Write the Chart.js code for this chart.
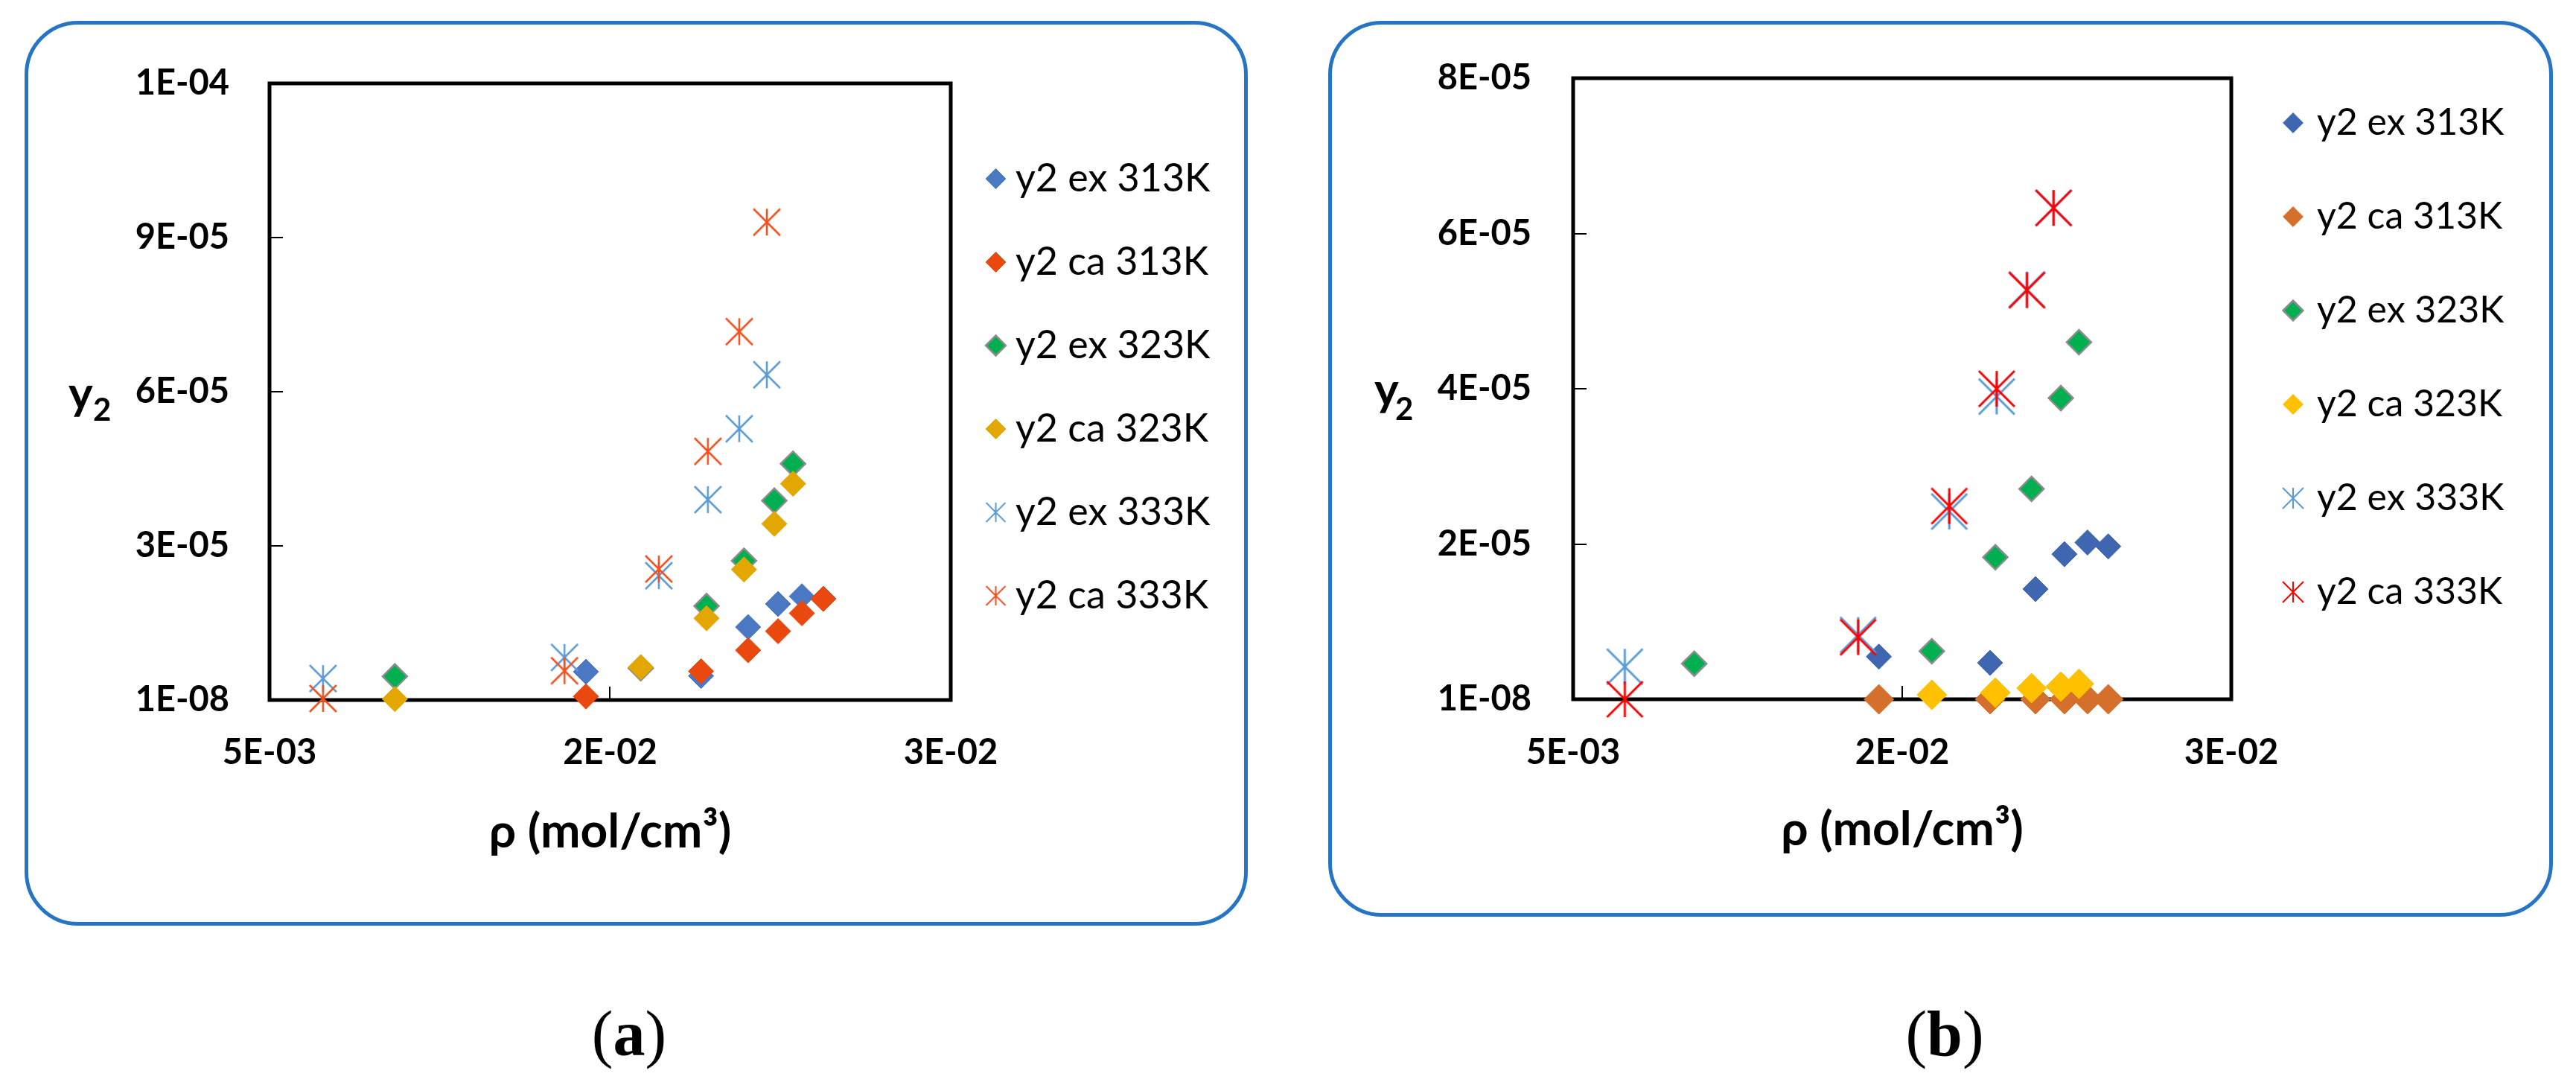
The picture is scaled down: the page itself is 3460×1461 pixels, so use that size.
<!DOCTYPE html>
<html>
<head>
<meta charset="utf-8">
<script src="https://cdn.jsdelivr.net/npm/chart.js@4.4.1/dist/chart.umd.min.js"></script>
<style>
html,body{margin:0;padding:0;background:#fff;}
body{width:3460px;height:1461px;position:relative;overflow:hidden;}
.frame{position:absolute;box-sizing:border-box;border:5px solid #2575C4;border-radius:72px;}
canvas{position:absolute;top:0;}
.cap{position:absolute;top:1345px;font-family:'Liberation Serif','Times New Roman',serif;font-size:86px;line-height:1;color:#000;white-space:nowrap;transform:translateX(-50%);}
</style>
</head>
<body>
<div class="frame" style="left:32.5px;top:27.5px;width:1643px;height:1215px"></div>
<div class="frame" style="left:1783.5px;top:27.5px;width:1645px;height:1203px"></div>
<canvas id="chartA" width="1730" height="1461" style="left:0px"></canvas>
<canvas id="chartB" width="1730" height="1461" style="left:1730px"></canvas>
<div class="cap" style="left:845px">(<b>a</b>)</div>
<div class="cap" style="left:2612px">(<b>b</b>)</div>
<script>
// ---------- data ----------
const seriesLabels = ['y2 ex 313K', 'y2 ca 313K', 'y2 ex 323K', 'y2 ca 323K', 'y2 ex 333K', 'y2 ca 333K'];

const rho313 = [0.01429, 0.01767, 0.01905, 0.01993, 0.02063, 0.02126];
const rho323 = [0.00868, 0.01590, 0.01783, 0.01893, 0.01982, 0.02037];
const rho333 = [0.00657, 0.01366, 0.01643, 0.01787, 0.01879, 0.01960];

const ex313 = [5.5e-6, 4.7e-6, 1.42e-5, 1.87e-5, 2.02e-5, 1.97e-5];
const ex323 = [4.6e-6, 6.2e-6, 1.83e-5, 2.71e-5, 3.88e-5, 4.60e-5];
const ex333 = [4.2e-6, 8.3e-6, 2.42e-5, 3.90e-5, 5.28e-5, 6.33e-5];

const caA313 = [7e-7, 5.6e-6, 9.7e-6, 1.34e-5, 1.69e-5, 1.97e-5];
const caA323 = [2e-7, 6.4e-6, 1.59e-5, 2.54e-5, 3.43e-5, 4.21e-5];
const caA333 = [3e-7, 5.7e-6, 2.55e-5, 4.84e-5, 7.17e-5, 9.30e-5];

const caB313 = [1e-9, 2e-9, 3e-9, 4e-9, 6e-9, 9e-9];
const caB323 = [null, 5.8e-7, 8.6e-7, 1.44e-6, 1.63e-6, 2.0e-6];
const caB333 = [5e-9, 8.0e-6, 2.49e-5, 4.00e-5, 5.27e-5, 6.33e-5];

const xTickValues = [0.005, 0.015, 0.025];
const xTickLabels = ['5E-03', '2E-02', '3E-02'];
const yTickValuesA = [1e-8, 3.001e-5, 6.001e-5, 9.001e-5, 1.2001e-4];
const yTickLabelsA = ['1E-08', '3E-05', '6E-05', '9E-05', '1E-04'];
const yTickValuesB = [1e-8, 2.001e-5, 4.001e-5, 6.001e-5, 8.001e-5];
const yTickLabelsB = ['1E-08', '2E-05', '4E-05', '6E-05', '8E-05'];
const xTitle = 'ρ (mol/cm³)';

// ---------- helpers ----------
Chart.defaults.font.family = 'Lato, "Open Sans", sans-serif';

function makeStar(color, r, lw) {
  const pad = Math.ceil(lw);
  const s = 2 * r + 2 * pad;
  const c = document.createElement('canvas');
  c.width = s; c.height = s;
  const g = c.getContext('2d');
  g.strokeStyle = color; g.lineWidth = lw; g.lineCap = 'butt';
  const m = s / 2;
  g.beginPath();
  g.moveTo(m - r, m - r); g.lineTo(m + r, m + r);
  g.moveTo(m + r, m - r); g.lineTo(m - r, m + r);
  g.moveTo(m, m - r); g.lineTo(m, m + r);
  g.stroke();
  return c;
}

function pts(xs, ys) {
  return xs.map((x, i) => ({x: x, y: ys[i]})).filter(p => p.y !== null);
}

function diamond(label, xs, ys, fill, border, bw, r, idx) {
  return {
    label: label, data: pts(xs, ys), showLine: false, clip: false, order: 5 - idx,
    pointStyle: 'rectRot', pointRadius: r, pointHoverRadius: r,
    pointBackgroundColor: fill, pointBorderColor: border, pointBorderWidth: bw,
    backgroundColor: fill, borderColor: border, borderWidth: bw
  };
}

function star(label, xs, ys, color, r, lw, legR, idx) {
  const img = makeStar(color, r, lw);
  return {
    label: label, data: pts(xs, ys), showLine: false, clip: false, order: 5 - idx,
    pointStyle: img, pointRadius: r, pointHoverRadius: r,
    pointBackgroundColor: color, pointBorderColor: color, pointBorderWidth: lw,
    backgroundColor: color, borderColor: color,
    legendStyle: makeStar(color, legR, 2)
  };
}

const framePlugin = {
  id: 'plotFrame',
  beforeDatasetsDraw(chart) {
    const {ctx, chartArea: a} = chart;
    ctx.save();
    ctx.strokeStyle = '#000'; ctx.lineWidth = 5; ctx.lineJoin = 'miter';
    ctx.strokeRect(a.left, a.top, a.right - a.left, a.bottom - a.top);
    ctx.restore();
  }
};

const ySubPlugin = {
  id: 'ySub',
  afterDraw(chart, args, o) {
    const {ctx, chartArea: a} = chart;
    ctx.save();
    ctx.fillStyle = '#000'; ctx.textAlign = 'left'; ctx.textBaseline = 'alphabetic';
    ctx.font = 'bold ' + o.size + 'px Lato, sans-serif';
    ctx.fillText(o.main, a.left + o.dx, a.top + o.dy);
    ctx.font = 'bold ' + o.subSize + 'px Lato, sans-serif';
    ctx.fillText(o.sub, a.left + o.sdx, a.top + o.sdy);
    ctx.restore();
  }
};

function generateLabels(chart) {
  const items = Chart.defaults.plugins.legend.labels.generateLabels(chart);
  items.forEach(it => {
    const ds = chart.data.datasets[it.datasetIndex];
    if (ds.legendStyle) it.pointStyle = ds.legendStyle;
  });
  return items;
}

function build(id, datasets, P) {
  const padding = {left: 0, right: P.padRight, top: P.padTop, bottom: 0};
  const cfg = {
    type: 'scatter',
    data: {datasets: datasets},
    options: {
      responsive: false, animation: false, events: [],
      layout: {padding: padding},
      scales: {
        x: {
          type: 'linear', position: 'bottom', min: 0.005, max: 0.025,
          afterBuildTicks: s => { s.ticks = xTickValues.map(v => ({value: v})); },
          afterFit: s => { s.height = P.xH; },
          ticks: {callback: (v, i) => xTickLabels[i], font: {size: 47, weight: 'bold'}, color: '#000',
                  padding: P.xPad, maxRotation: 0, autoSkip: false},
          grid: {drawOnChartArea: false, drawTicks: true, tickLength: -18, color: '#000', lineWidth: 2},
          border: {display: false},
          title: {display: true, text: xTitle, font: {size: 64, weight: 'bold'}, color: '#000',
                  padding: {top: 0, bottom: P.titlePad}}
        },
        y: {
          type: 'linear', position: 'left', min: P.yMin, max: P.yMax,
          afterBuildTicks: s => { s.ticks = P.yVals.map(v => ({value: v})); },
          afterFit: s => { s.width = P.yW; },
          ticks: {callback: (v, i) => P.yLabs[i], font: {size: 47, weight: 'bold'}, color: '#000',
                  padding: P.yPad, autoSkip: false},
          grid: {drawOnChartArea: false, drawTicks: true, tickLength: -18, color: '#000', lineWidth: 2},
          border: {display: false}
        }
      },
      plugins: {
        tooltip: {enabled: false},
        title: P.topBox ? {display: true, text: '', padding: {top: P.topBox / 2 - 6, bottom: P.topBox / 2 - 6}, font: {size: 10}} : {display: false},
        legend: {
          display: true, position: 'right', align: 'start', fullSize: true,
          title: P.legTitle ? {display: true, text: '', padding: {top: P.legTitle / 2 - 6, bottom: P.legTitle / 2 - 6}, font: {size: 10}} : {display: false},
          labels: {
            usePointStyle: true, boxWidth: P.boxW, boxHeight: 19, padding: P.legPad, color: '#000',
            font: {size: P.legFont, weight: 'normal'},
            sort: (a, b) => a.datasetIndex - b.datasetIndex,
            generateLabels: generateLabels
          }
        },
        ySub: P.ySub
      }
    },
    plugins: [framePlugin, ySubPlugin]
  };
  const chart = new Chart(document.getElementById(id), cfg);
  for (let k = 0; k < 2; k++) {
    const diff = chart.chartArea.right - P.targetRight;
    if (Math.abs(diff) < 0.5) break;
    padding.right += diff;
    chart.update('none');
  }
  return chart;
}

// ---------- panel (a) ----------
const dsA = [
  diamond(seriesLabels[0], rho313, ex313, '#4A78C2', '#4A78C2', 1, 17, 0),
  diamond(seriesLabels[1], rho313, caA313, '#E9480F', '#E9480F', 1, 17, 1),
  diamond(seriesLabels[2], rho323, ex323, '#00B050', '#8C8C8C', 2.5, 16.5, 2),
  diamond(seriesLabels[3], rho323, caA323, '#E2A700', '#E2A700', 1, 17, 3),
  star(seriesLabels[4], rho333, ex333, '#5B9BD5', 18, 2.5, 13, 4),
  star(seriesLabels[5], rho333, caA333, '#F2501C', 18, 2.5, 13, 5)
];
build('chartA', dsA, {
  padTop: 112, padRight: 100, targetRight: 1277,
  yW: 362, xH: 1461 - 940, xPad: 61, yPad: 72, titlePad: 305.6,
  yMin: 1e-8, yMax: 1.2001e-4, yVals: yTickValuesA, yLabs: yTickLabelsA,
  topBox: 0, legTitle: 42, legPad: 60, legFont: 52, boxW: 1,
  ySub: {main: 'y', sub: '2', size: 62, subSize: 42, dx: -270, dy: 438, sdx: -237, sdy: 453}
});

// ---------- panel (b) ----------
const dsB = [
  diamond(seriesLabels[0], rho313, ex313, '#3E66B1', '#3E66B1', 1, 17, 0),
  diamond(seriesLabels[1], rho313, caB313, '#D46F2C', '#D46F2C', 1, 20, 1),
  diamond(seriesLabels[2], rho323, ex323, '#00B050', '#8C8C8C', 2.5, 16.5, 2),
  diamond(seriesLabels[3], rho323, caB323, '#FFC000', '#FFC000', 1, 20, 3),
  star(seriesLabels[4], rho333, ex333, '#5B9BD5', 24, 3, 14, 4),
  star(seriesLabels[5], rho333, caB333, '#FF0000', 24, 3, 14, 5)
];
build('chartB', dsB, {
  padTop: 64, padRight: 90, targetRight: 1267,
  yW: 383, xH: 1461 - 939, xPad: 62, yPad: 74, titlePad: 308.6,
  yMin: 1e-8, yMax: 8.001e-5, yVals: yTickValuesB, yLabs: yTickLabelsB,
  topBox: 41, legTitle: 0, legPad: 76, legFont: 50, boxW: 14,
  ySub: {main: 'y', sub: '2', size: 62, subSize: 42, dx: -267, dy: 440, sdx: -239, sdy: 459}
});
</script>
</body>
</html>
